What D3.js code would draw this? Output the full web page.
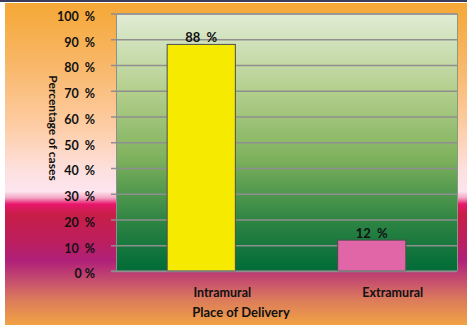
<!DOCTYPE html>
<html>
<head>
<meta charset="utf-8">
<script src="https://cdn.jsdelivr.net/npm/d3@7"></script>
<style>
  body { margin: 0; background: #fff; }
  svg text { font-family: Lato, "Liberation Sans", sans-serif; font-weight: bold; fill: #111; }
</style>
</head>
<body>
<div id="chart"></div>
<script>
// data
var categories = ["Intramural", "Extramural"];
var percentages = [88, 12];
var barColors = ["#f5ea00", "#e066a8"];
var yTicks = [0, 10, 20, 30, 40, 50, 60, 70, 80, 90, 100];

var W = 467, H = 325;
var margin = {top: 13.5, right: 10, bottom: 54, left: 116},
    width = W - margin.left - margin.right,
    height = H - margin.top - margin.bottom;

var svg = d3.select("#chart").append("svg")
    .attr("width", W)
    .attr("height", H);

var defs = svg.append("defs");

// page background gradient
var bg = defs.append("linearGradient").attr("id", "bg")
    .attr("x1", 0).attr("y1", 0).attr("x2", 0).attr("y2", 1);
[[0, "#f5a836"], [0.18, "#f8b665"], [0.37, "#fdcba0"], [0.52, "#fde0de"], [0.585, "#fde5ef"],
 [0.605, "#f3a6c4"], [0.625, "#e8156c"], [0.655, "#c81e48"], [0.74, "#bc1f5e"], [0.8, "#b02079"],
 [0.86, "#c44c6e"], [0.92, "#db7a5c"], [1, "#f1a344"]].forEach(function(s) {
  bg.append("stop").attr("offset", s[0]).attr("stop-color", s[1]);
});

// plot area gradient
var pg = defs.append("linearGradient").attr("id", "pg")
    .attr("x1", 0).attr("y1", 0).attr("x2", 0).attr("y2", 1);
[[0, "#e1ecd5"], [0.3, "#b4cf8d"], [0.55, "#82b35e"], [0.8, "#2f8543"], [1, "#006b38"]]
  .forEach(function(s) {
    pg.append("stop").attr("offset", s[0]).attr("stop-color", s[1]);
  });

svg.append("rect").attr("x", 5).attr("y", 3).attr("width", W - 5).attr("height", H - 3)
    .attr("fill", "url(#bg)");
svg.append("rect").attr("x", 0).attr("y", 0).attr("width", W).attr("height", 2)
    .attr("fill", "#3c3d5c");

var g = svg.append("g")
    .attr("transform", "translate(" + margin.left + "," + margin.top + ")");

// scales
var x = d3.scaleBand().domain(categories).range([0, width]).paddingInner(0.6).paddingOuter(0.3);
var y = d3.scaleLinear().domain([0, 100]).range([height, 0]);

g.append("rect")
    .attr("width", width).attr("height", height)
    .attr("fill", "url(#pg)");
g.append("line")
    .attr("x1", width + 0.5).attr("x2", width + 0.5).attr("y1", 0).attr("y2", height)
    .attr("stroke", "#8a9a80").attr("stroke-width", 1);

// gridlines + y axis
var yAxis = g.append("g")
    .call(d3.axisLeft(y).tickValues(yTicks).tickSize(-width).tickFormat(function(d) {
      return d === 0 ? "0 %" : d + "  %";
    }));
yAxis.select(".domain").attr("stroke", "#8f8f8f");
yAxis.selectAll(".tick line").attr("stroke", "#8f8f8f").attr("stroke-width", 1.3).attr("x1", -5);
yAxis.selectAll(".tick text")
    .attr("x", -21)
    .attr("dy", "0.55em")
    .style("font-size", "12.5px")
    .style("white-space", "pre")
    .attr("fill", "#111");

// bars
g.selectAll(".bar")
    .data(categories)
    .enter().append("rect")
    .attr("class", "bar")
    .attr("x", function(d) { return x(d); })
    .attr("width", x.bandwidth())
    .attr("y", function(d, i) { return y(percentages[i]); })
    .attr("height", function(d, i) { return height - y(percentages[i]); })
    .attr("fill", function(d, i) { return barColors[i]; })
    .attr("stroke", "#4d4d4d")
    .attr("stroke-width", 1);

// value labels
g.selectAll(".val")
    .data(categories)
    .enter().append("text")
    .attr("x", function(d) { return x(d) + x.bandwidth() / 2; })
    .attr("y", function(d, i) { return y(percentages[i]) - 2; })
    .attr("text-anchor", "middle")
    .style("font-size", "13px")
    .style("white-space", "pre")
    .text(function(d, i) { return percentages[i] + "  %"; });

// x axis line and labels (labels sit a little right of the bar centres)
g.append("line")
    .attr("x1", -5).attr("x2", width).attr("y1", height).attr("y2", height)
    .attr("stroke", "#8f8f8f");
g.selectAll(".cat")
    .data(categories)
    .enter().append("text")
    .attr("x", function(d) { return x(d) + x.bandwidth() / 2 + 21; })
    .attr("y", height + 26)
    .attr("text-anchor", "middle")
    .style("font-size", "12.5px")
    .text(function(d) { return d; });

svg.append("text")
    .attr("x", 241).attr("y", 317)
    .attr("text-anchor", "middle")
    .style("font-size", "13px")
    .text("Place of Delivery");

svg.append("text")
    .attr("transform", "translate(49,128) rotate(90)")
    .attr("text-anchor", "middle")
    .style("font-size", "12px")
    .text("Percentage of cases");
</script>
</body>
</html>
